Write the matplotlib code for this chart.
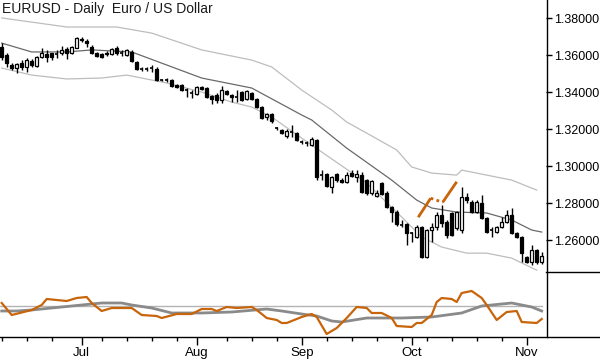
import matplotlib
matplotlib.use("Agg")
import matplotlib.pyplot as plt
from matplotlib.lines import Line2D
import pandas as pd

plt.rcParams["font.family"] = ["Liberation Sans", "DejaVu Sans"]

TITLE = "EURUSD - Daily  Euro / US Dollar"
START = "2014-06-09"

# daily candles (open / high / low / close), one per weekday from START
opens = [1.3644, 1.3600, 1.3546, 1.3530, 1.3557, 1.3536, 1.3568, 1.3541, 1.3590, 1.3606,
         1.3611, 1.3606, 1.3611, 1.3633, 1.3611, 1.3638, 1.3687, 1.3676, 1.3644, 1.3611,
         1.3606, 1.3611, 1.3606, 1.3638, 1.3611, 1.3600, 1.3617, 1.3563, 1.3525, 1.3525,
         1.3530, 1.3525, 1.3465, 1.3465, 1.3465, 1.3438, 1.3438, 1.3411, 1.3395, 1.3389,
         1.3427, 1.3422, 1.3379, 1.3384, 1.3357, 1.3406, 1.3384, 1.3373, 1.3400, 1.3362,
         1.3395, 1.3362, 1.3319, 1.3265, 1.3281, 1.3206, 1.3195, 1.3162, 1.3184, 1.3178,
         1.3130, 1.3124, 1.3113, 1.3141, 1.2951, 1.2957, 1.2886, 1.2957, 1.2924, 1.2913,
         1.2962, 1.2940, 1.2951, 1.2924, 1.2854, 1.2838, 1.2908, 1.2854, 1.2778, 1.2751,
         1.2681, 1.2686, 1.2637, 1.2616, 1.2670, 1.2508, 1.2654, 1.2670, 1.2735, 1.2697,
         1.2746, 1.2665, 1.2654, 1.2832, 1.2805, 1.2751, 1.2800, 1.2719, 1.2654, 1.2643,
         1.2670, 1.2697, 1.2735, 1.2637, 1.2616, 1.2508, 1.2481, 1.2546, 1.2481]
highs = [1.3665, 1.3611, 1.3557, 1.3557, 1.3573, 1.3584, 1.3579, 1.3595, 1.3638, 1.3628,
         1.3611, 1.3628, 1.3649, 1.3644, 1.3649, 1.3698, 1.3698, 1.3687, 1.3655, 1.3617,
         1.3611, 1.3622, 1.3638, 1.3649, 1.3628, 1.3633, 1.3628, 1.3568, 1.3536, 1.3536,
         1.3546, 1.3536, 1.3471, 1.3476, 1.3471, 1.3444, 1.3444, 1.3422, 1.3411, 1.3433,
         1.3433, 1.3427, 1.3384, 1.3395, 1.3433, 1.3411, 1.3389, 1.3411, 1.3406, 1.3411,
         1.3400, 1.3368, 1.3325, 1.3287, 1.3287, 1.3211, 1.3200, 1.3200, 1.3222, 1.3184,
         1.3141, 1.3135, 1.3157, 1.3146, 1.2978, 1.2962, 1.2946, 1.2962, 1.2935, 1.2967,
         1.2978, 1.2978, 1.2967, 1.2930, 1.2924, 1.2870, 1.2913, 1.2865, 1.2784, 1.2762,
         1.2708, 1.2692, 1.2643, 1.2681, 1.2676, 1.2659, 1.2692, 1.2751, 1.2789, 1.2708,
         1.2751, 1.2757, 1.2886, 1.2854, 1.2816, 1.2816, 1.2843, 1.2724, 1.2670, 1.2676,
         1.2724, 1.2762, 1.2773, 1.2643, 1.2621, 1.2513, 1.2573, 1.2551, 1.2535]
lows = [1.3573, 1.3536, 1.3519, 1.3503, 1.3519, 1.3508, 1.3536, 1.3536, 1.3584, 1.3563,
        1.3573, 1.3584, 1.3600, 1.3579, 1.3606, 1.3638, 1.3671, 1.3644, 1.3606, 1.3590,
        1.3584, 1.3595, 1.3600, 1.3600, 1.3595, 1.3595, 1.3563, 1.3519, 1.3514, 1.3514,
        1.3508, 1.3460, 1.3460, 1.3454, 1.3427, 1.3422, 1.3406, 1.3373, 1.3368, 1.3384,
        1.3411, 1.3368, 1.3335, 1.3341, 1.3341, 1.3384, 1.3346, 1.3346, 1.3352, 1.3357,
        1.3357, 1.3314, 1.3254, 1.3249, 1.3233, 1.3195, 1.3173, 1.3151, 1.3157, 1.3135,
        1.3119, 1.3108, 1.3108, 1.2924, 1.2924, 1.2886, 1.2854, 1.2913, 1.2908, 1.2908,
        1.2940, 1.2913, 1.2854, 1.2843, 1.2843, 1.2832, 1.2843, 1.2773, 1.2697, 1.2676,
        1.2670, 1.2573, 1.2589, 1.2610, 1.2502, 1.2502, 1.2589, 1.2654, 1.2670, 1.2610,
        1.2621, 1.2654, 1.2637, 1.2800, 1.2746, 1.2746, 1.2713, 1.2637, 1.2616, 1.2637,
        1.2665, 1.2692, 1.2632, 1.2610, 1.2481, 1.2475, 1.2464, 1.2470, 1.2470]
closes = [1.3590, 1.3557, 1.3530, 1.3552, 1.3536, 1.3573, 1.3546, 1.3590, 1.3611, 1.3590,
          1.3590, 1.3606, 1.3628, 1.3611, 1.3644, 1.3692, 1.3682, 1.3665, 1.3611, 1.3595,
          1.3590, 1.3606, 1.3633, 1.3611, 1.3611, 1.3628, 1.3568, 1.3525, 1.3525, 1.3525,
          1.3530, 1.3465, 1.3465, 1.3465, 1.3433, 1.3427, 1.3411, 1.3411, 1.3395, 1.3427,
          1.3417, 1.3373, 1.3362, 1.3357, 1.3411, 1.3389, 1.3373, 1.3373, 1.3357, 1.3406,
          1.3362, 1.3319, 1.3260, 1.3281, 1.3243, 1.3206, 1.3178, 1.3189, 1.3184, 1.3141,
          1.3130, 1.3124, 1.3146, 1.2940, 1.2951, 1.2892, 1.2940, 1.2924, 1.2913, 1.2951,
          1.2946, 1.2957, 1.2859, 1.2854, 1.2919, 1.2854, 1.2848, 1.2778, 1.2751, 1.2686,
          1.2681, 1.2637, 1.2637, 1.2670, 1.2508, 1.2654, 1.2670, 1.2735, 1.2692, 1.2627,
          1.2627, 1.2751, 1.2832, 1.2816, 1.2751, 1.2805, 1.2719, 1.2643, 1.2654, 1.2670,
          1.2697, 1.2735, 1.2637, 1.2616, 1.2529, 1.2481, 1.2546, 1.2481, 1.2513]

# channel lines (bar index, price)
mid_idx = [0, 6, 13, 18, 26, 40, 50, 60, 62, 69, 78, 83, 86, 91, 97, 102, 106, 108]
mid_val = [1.3665, 1.3617, 1.3617, 1.3628, 1.3617, 1.3476, 1.3422, 1.3276, 1.3249, 1.3097,
           1.2924, 1.2816, 1.2773, 1.2751, 1.2746, 1.2708, 1.2654, 1.2643]
upper_idx = [0, 13, 23, 30, 40, 50, 54, 60, 63, 66, 69, 73, 79, 82, 86, 91, 92, 97, 102, 107]
upper_val = [1.3801, 1.3752, 1.3752, 1.3719, 1.3628, 1.3573, 1.3536, 1.3411, 1.3357, 1.3303,
             1.3238, 1.3178, 1.3087, 1.2995, 1.2962, 1.2951, 1.2978, 1.2951, 1.2924, 1.2870]
lower_idx = [0, 6, 13, 20, 25, 28, 33, 40, 46, 50, 54, 60, 64, 73, 80, 84, 88, 93, 97, 102, 107]
lower_val = [1.3530, 1.3492, 1.3471, 1.3476, 1.3492, 1.3476, 1.3449, 1.3400, 1.3346, 1.3319,
             1.3265, 1.3151, 1.3076, 1.2908, 1.2724, 1.2616, 1.2562, 1.2529, 1.2529, 1.2502,
             1.2437]

# hand-drawn trend annotation
trend_idx = [83.3, 85.8, 88.2, 91.0]
trend_val = [1.2723, 1.2826, 1.2804, 1.2915]

# lower oscillator panel
fast_idx = [0, 2, 6, 8, 9, 13, 15, 17, 18, 20, 22, 26, 28, 31, 32, 35, 38, 40, 42, 43,
            45, 47, 50, 51, 53, 55, 56, 57, 60, 62, 63, 65, 67, 69, 71, 73, 74, 76, 78, 79,
            82, 83, 84, 86, 87, 88, 90, 91, 92, 94, 96, 97, 99, 101, 103, 104, 107, 108]
fast_val = [3, -9, -4, 1, 7, 5, 8, 9, 3, -5, -2, -2, -9, -10, -12, -8, -8, -3, -3, -5,
            -1, -2, -1, -4, -12, -14, -17, -17, -11, -8, -11, -28, -22, -12, -1, -2, -7, -7, -12, -20,
            -21, -17, -17, -9, 4, 8, 7, 4, 13, 15, 8, 1, -14, -6, -5, -16, -17, -13]
slow_idx = [0, 3, 6, 10, 16, 20, 24, 26, 30, 34, 40, 46, 53, 56, 60, 63, 66, 68, 73, 80,
            86, 92, 96, 100, 102, 106, 108]
slow_val = [-5, -5, -4, -2, 1, 3, 3, 1, -2, -7, -7, -6, -3, -5, -8, -10, -15, -16, -12, -12,
            -11, -7, 0, 2, 3, -1, -5]

price_ticks = [1.26, 1.28, 1.30, 1.32, 1.34, 1.36, 1.38]

ORANGE = "#c8640a"

n = len(opens)
dates = pd.bdate_range(START, periods=n)
month_pos = [i for i in range(1, n) if dates[i].month != dates[i - 1].month]
month_lab = [dates[i].strftime("%b") for i in month_pos]
week_pos = [i for i in range(n) if dates[i].weekday() == 0
            and all(abs(i - m) > 1 for m in month_pos)]

fig = plt.figure(figsize=(6, 3.6), dpi=100)
ax = fig.add_axes([0, 88 / 360, 546 / 600, 272 / 360])
ax2 = fig.add_axes([0, 23 / 360, 546 / 600, 65 / 360])

xlim = (-0.34, 108.86)

# channel
ax.plot(upper_idx, upper_val, color="#bdbdbd", lw=0.9)
ax.plot(lower_idx, lower_val, color="#bdbdbd", lw=0.9)
ax.plot(mid_idx, mid_val, color="#6a6a6a", lw=0.9)

# candles
for i in range(n):
    o, h, l, c = opens[i], highs[i], lows[i], closes[i]
    ax.vlines(i, l, h, color="black", lw=1)
    if abs(c - o) < 1e-6:
        ax.hlines(o, i - 0.35, i + 0.35, color="black", lw=1.2)
    else:
        face = "white" if c > o else "black"
        ax.bar(i, c - o, bottom=o, width=0.62, color=face, edgecolor="black",
               linewidth=0.9, zorder=3)

ax.plot(trend_idx[:2], trend_val[:2], color=ORANGE, lw=2, solid_capstyle="butt")
ax.plot(trend_idx[1:3], trend_val[1:3], color=ORANGE, lw=2, ls=(0, (1, 1.2)))
ax.plot(trend_idx[2:], trend_val[2:], color=ORANGE, lw=2, solid_capstyle="butt")

ax.set_xlim(*xlim)
ax.set_ylim(1.2427, 1.3898)
ax.yaxis.tick_right()
ax.set_yticks(price_ticks)
ax.set_yticklabels([f"{t:.5f}" for t in price_ticks])
ax.tick_params(axis="y", direction="out", length=4, width=1, pad=1.5,
               labelsize=9, colors="black")
ax.set_xticks([])
for s in ax.spines.values():
    s.set_visible(False)
ax.text(0.004, 0.992, TITLE, transform=ax.transAxes, ha="left", va="top",
        fontsize=10, color="#1a1a1a")

# oscillator
ax2.axhline(0, xmin=0, xmax=(108 - xlim[0]) / (xlim[1] - xlim[0]),
            color="#b4b4b4", lw=1)
ax2.plot(slow_idx, slow_val, color="#8a8a8a", lw=2)
ax2.plot(fast_idx, fast_val, color=ORANGE, lw=1.6)
ax2.set_xlim(*xlim)
ax2.set_ylim(-31, 34)
ax2.set_yticks([])
ax2.set_xticks(month_pos)
ax2.set_xticklabels(month_lab)
ax2.set_xticks(week_pos, minor=True)
ax2.tick_params(axis="x", which="major", direction="out", length=6, width=1,
                pad=1, labelsize=9.5)
ax2.tick_params(axis="x", which="minor", direction="out", length=3, width=1)
for s in ax2.spines.values():
    s.set_visible(False)

# frame lines of the chart window
fig.add_artist(Line2D([546.5 / 600] * 2, [23 / 360, 1], color="black", lw=1))
fig.add_artist(Line2D([0, 1], [23 / 360] * 2, color="black", lw=1))
fig.add_artist(Line2D([546 / 600, 1], [88 / 360] * 2, color="black", lw=1))

fig.savefig("out.png", dpi=100)
